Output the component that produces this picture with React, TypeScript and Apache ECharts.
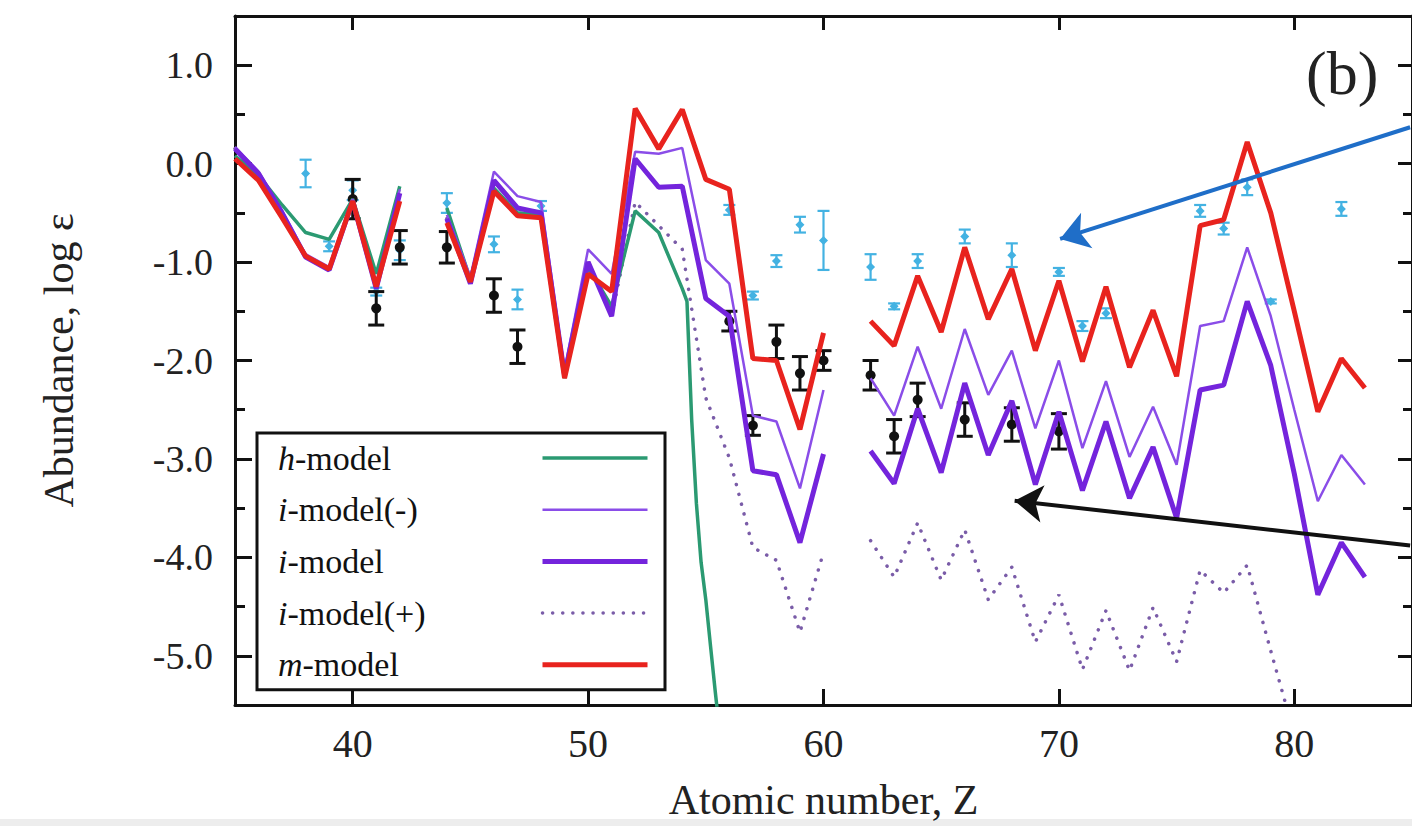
import React, { useEffect, useRef } from "react";
import * as echarts from "echarts";

const FONT = "'Liberation Serif', 'Times New Roman', serif";

// Atomic numbers used by the model curves (gaps at Tc=43 and Pm=61)
const Z = [35, 36, 37, 38, 39, 40, 41, 42, 43, 44, 45, 46, 47, 48, 49, 50, 51, 52, 53, 54, 55, 56, 57, 58, 59, 60, 61, 62, 63, 64, 65, 66, 67, 68, 69, 70, 71, 72, 73, 74, 75, 76, 77, 78, 79, 80, 81, 82, 83];

const hModelZ = [35, 36, 37, 38, 39, 40, 41, 42, 43, 44, 45, 46, 47, 48, 49, 50, 51, 52, 53, 54, 54.2, 54.4, 54.6, 54.8, 55, 55.2, 55.4, 55.6];
const hModel = [0.08, -0.12, -0.42, -0.7, -0.77, -0.36, -1.12, -0.23, null, -0.45, -1.18, -0.25, -0.5, -0.52, -2.18, -1.05, -1.45, -0.48, -0.7, -1.27, -1.4, -2.6, -3.45, -4.05, -4.43, -4.9, -5.36, -5.8];

const iModelMinus = [0.17, -0.08, -0.48, -0.92, -1.05, -0.36, -1.25, -0.26, null, -0.52, -1.15, -0.08, -0.33, -0.39, -2.1, -0.87, -1.12, 0.12, 0.1, 0.16, -0.98, -1.22, -2.56, -2.62, -3.3, -2.3, null, -2.18, -2.56, -1.86, -2.49, -1.68, -2.35, -1.9, -2.69, -2.0, -2.89, -2.21, -2.98, -2.47, -3.06, -1.65, -1.6, -0.85, -1.55, -2.5, -3.43, -2.96, -3.26];

const iModel = [0.15, -0.1, -0.5, -0.95, -1.08, -0.38, -1.27, -0.3, null, -0.56, -1.22, -0.17, -0.45, -0.5, -2.15, -1.0, -1.55, 0.05, -0.24, -0.23, -1.37, -1.55, -3.12, -3.16, -3.85, -2.95, null, -2.92, -3.25, -2.49, -3.14, -2.23, -2.96, -2.41, -3.26, -2.52, -3.32, -2.62, -3.4, -2.88, -3.6, -2.3, -2.25, -1.4, -2.05, -3.15, -4.38, -3.85, -4.2];

const iModelPlus = [0.15, -0.1, -0.5, -0.95, -1.08, -0.38, -1.27, -0.3, null, -0.56, -1.22, -0.17, -0.45, -0.5, -2.15, -1.0, -1.55, -0.39, -0.63, -0.87, -2.38, -2.99, -3.9, -4.03, -4.76, -3.95, null, -3.83, -4.2, -3.65, -4.23, -3.72, -4.43, -4.1, -4.86, -4.38, -5.14, -4.54, -5.15, -4.51, -5.06, -4.13, -4.36, -4.08, -4.95, -5.8, null, null, null];

const mModel = [0.05, -0.17, -0.55, -0.94, -1.07, -0.38, -1.25, -0.38, null, -0.6, -1.2, -0.28, -0.53, -0.55, -2.18, -1.12, -1.3, 0.56, 0.15, 0.55, -0.16, -0.26, -1.98, -2.0, -2.7, -1.72, null, -1.6, -1.85, -1.14, -1.71, -0.85, -1.58, -1.07, -1.9, -1.19, -2.01, -1.25, -2.07, -1.49, -2.16, -0.63, -0.57, 0.22, -0.5, -1.5, -2.52, -1.98, -2.28];

// Observed abundances (black) with errors
const blackZ = [40, 41, 42, 44, 46, 47, 56, 57, 58, 59, 60, 62, 63, 64, 66, 68, 70];
const blackVal = [-0.36, -1.47, -0.85, -0.85, -1.34, -1.86, -1.6, -2.66, -1.81, -2.13, -2.0, -2.15, -2.77, -2.4, -2.6, -2.65, -2.72];
const blackErr = [0.2, 0.17, 0.17, 0.16, 0.17, 0.17, 0.1, 0.1, 0.17, 0.17, 0.1, 0.15, 0.17, 0.17, 0.17, 0.17, 0.18];

// Observed abundances (cyan) with errors
const cyanZ = [38, 39, 40, 41, 42, 44, 46, 47, 48, 56, 57, 58, 59, 60, 62, 63, 64, 66, 68, 70, 71, 72, 76, 77, 78, 79, 82];
const cyanVal = [-0.1, -0.84, -0.27, -1.3, -0.88, -0.4, -0.82, -1.38, -0.43, -0.47, -1.34, -0.99, -0.62, -0.78, -1.05, -1.45, -0.99, -0.74, -0.93, -1.1, -1.65, -1.52, -0.48, -0.66, -0.24, -1.4, -0.46];
const cyanErr = [0.14, 0.05, 0.1, 0.04, 0.1, 0.1, 0.08, 0.1, 0.05, 0.05, 0.04, 0.06, 0.08, 0.3, 0.13, 0.03, 0.07, 0.07, 0.12, 0.04, 0.05, 0.05, 0.06, 0.06, 0.08, 0.02, 0.07];

const names = ["h-model", "i-model(-)", "i-model", "i-model(+)", "m-model"];

const pairs = (xs: number[], vs: (number | null)[]) => xs.map((x, i) => [x, vs[i]]);
const triples = (xs: number[], vs: number[], es: number[]) => xs.map((x, i) => [x, vs[i], es[i]]);

function errRenderer(color: string, capHalf: number, r: number, lw: number, diamond: boolean) {
  return (params: any, api: any) => {
    const x = api.value(0);
    const v = api.value(1);
    const e = api.value(2);
    const c = api.coord([x, v]);
    const t = api.coord([x, v + e]);
    const b = api.coord([x, v - e]);
    const st = { stroke: color, lineWidth: lw };
    const marker = diamond
      ? { type: "polygon", shape: { points: [[c[0], c[1] - r], [c[0] + r, c[1]], [c[0], c[1] + r], [c[0] - r, c[1]]] }, style: { fill: color } }
      : { type: "circle", shape: { cx: c[0], cy: c[1], r }, style: { fill: color } };
    return {
      type: "group",
      children: [
        { type: "line", shape: { x1: c[0], y1: t[1], x2: c[0], y2: b[1] }, style: st },
        { type: "line", shape: { x1: c[0] - capHalf, y1: t[1], x2: c[0] + capHalf, y2: t[1] }, style: st },
        { type: "line", shape: { x1: c[0] - capHalf, y1: b[1], x2: c[0] + capHalf, y2: b[1] }, style: st },
        marker,
      ],
    };
  };
}

const axisLineStyle = { show: true, onZero: false, lineStyle: { color: "#111", width: 3 } };

export default function App() {
  const ref = useRef<HTMLDivElement>(null);
  useEffect(() => {
    const chart = echarts.init(ref.current!, null, { renderer: "svg" });
    const baseLine = (name: string, xs: number[], vs: (number | null)[], color: string, width: number, extra: any = {}) => ({
      name,
      type: "line",
      data: pairs(xs, vs),
      symbol: "none",
      showSymbol: false,
      connectNulls: false,
      clip: true,
      silent: true,
      z: 3,
      lineStyle: { color, width, ...(extra.lineStyle || {}) },
      itemStyle: { color },
      emphasis: { disabled: true },
      ...(extra.rest || {}),
    });

    const option: any = {
      animation: false,
      backgroundColor: "#ffffff",
      grid: { left: 235, top: 16, right: -2, bottom: 118, containLabel: false },
      title: {
        text: "(b)",
        left: 1306,
        top: 42,
        padding: 0,
        textStyle: { fontFamily: FONT, fontSize: 62, fontWeight: "normal", color: "#222" },
      },
      legend: [
        {
          orient: "vertical",
          left: 257,
          top: 433,
          data: names,
          selectedMode: false,
          icon: "rect",
          itemWidth: 0,
          itemHeight: 0,
          itemGap: 17.7,
          padding: [8, 17, 8, 16],
          borderColor: "#111",
          borderWidth: 3,
          backgroundColor: "#fff",
          formatter: (n: string) => `{it|${n[0]}}${n.slice(1)}`,
          textStyle: {
            fontFamily: FONT,
            fontSize: 34,
            lineHeight: 34,
            color: "#111",
            width: 370,
            rich: { it: { fontFamily: FONT, fontSize: 34, fontStyle: "italic", color: "#111" } },
          },
        },
        {
          orient: "vertical",
          left: 540,
          top: 441,
          data: names,
          selectedMode: false,
          itemWidth: 105,
          itemHeight: 14,
          itemGap: 17.7,
          padding: 0,
          formatter: () => " ",
          itemStyle: { opacity: 0 },
          lineStyle: { width: "inherit" },
          textStyle: { fontFamily: FONT, fontSize: 34, lineHeight: 34 },
        },
      ],
      xAxis: [
        {
          type: "value",
          min: 35,
          max: 85,
          splitNumber: 5,
          position: "bottom",
          axisLine: axisLineStyle,
          axisTick: { inside: true, length: 16, lineStyle: { color: "#111", width: 3 } },
          axisLabel: { fontFamily: FONT, fontSize: 40, color: "#222", margin: 18, showMinLabel: false, showMaxLabel: false },
          splitLine: { show: false },
          name: "Atomic number, Z",
          nameLocation: "middle",
          nameGap: 74,
          nameTextStyle: { fontFamily: FONT, fontSize: 42, color: "#222" },
        },
        {
          type: "value",
          min: 35,
          max: 85,
          splitNumber: 5,
          position: "top",
          axisLine: axisLineStyle,
          axisTick: { inside: true, length: 14, lineStyle: { color: "#111", width: 3 } },
          axisLabel: { show: false },
          splitLine: { show: false },
        },
      ],
      yAxis: [
        {
          type: "value",
          min: -5.5,
          max: 1.5,
          splitNumber: 7,
          position: "left",
          axisLine: axisLineStyle,
          axisTick: { inside: true, length: 17, lineStyle: { color: "#111", width: 3 } },
          axisLabel: {
            fontFamily: FONT,
            fontSize: 38,
            color: "#222",
            margin: 22,
            showMinLabel: false,
            showMaxLabel: false,
            formatter: (v: number) => v.toFixed(1),
          },
          splitLine: { show: false },
          name: "Abundance, log ε",
          nameLocation: "middle",
          nameRotate: 90,
          nameGap: 155,
          nameTextStyle: { fontFamily: FONT, fontSize: 42, color: "#222" },
        },
        {
          type: "value",
          min: -5.5,
          max: 1.5,
          splitNumber: 7,
          position: "right",
          axisLine: axisLineStyle,
          axisTick: { inside: true, length: 14, lineStyle: { color: "#111", width: 3 } },
          axisLabel: { show: false },
          splitLine: { show: false },
        },
        {
          type: "value",
          min: -5.5,
          max: 1.5,
          interval: 0.5,
          position: "left",
          axisLine: { show: false, onZero: false },
          axisTick: { inside: true, length: 10, lineStyle: { color: "#111", width: 3 } },
          axisLabel: { show: false },
          splitLine: { show: false },
        },
        {
          type: "value",
          min: -5.5,
          max: 1.5,
          interval: 0.5,
          position: "right",
          axisLine: { show: false, onZero: false },
          axisTick: { inside: true, length: 9, lineStyle: { color: "#111", width: 3 } },
          axisLabel: { show: false },
          splitLine: { show: false },
        },
      ],
      graphic: [
        { type: "rect", left: 0, top: 819, shape: { width: 1412, height: 7 }, style: { fill: "#ededed" }, silent: true, z: -10 },
      ],
      series: [
        {
          name: "cyanObs",
          type: "custom",
          xAxisIndex: 0,
          yAxisIndex: 0,
          z: 1,
          silent: true,
          data: triples(cyanZ, cyanVal, cyanErr),
          encode: { x: 0, y: 1 },
          renderItem: errRenderer("#43b2e2", 6, 4.5, 2.2, true),
        },
        {
          name: "blackObs",
          type: "custom",
          xAxisIndex: 0,
          yAxisIndex: 0,
          z: 2,
          silent: true,
          data: triples(blackZ, blackVal, blackErr),
          encode: { x: 0, y: 1 },
          renderItem: errRenderer("#111111", 8, 5, 3, false),
        },
        baseLine("i-model(+)", Z, iModelPlus, "#7a5ca8", 3.5, { lineStyle: { type: [0.1, 10], cap: "round" } }),
        baseLine("h-model", hModelZ, hModel, "#2b9a72", 3.5),
        baseLine("i-model(-)", Z, iModelMinus, "#8a4de8", 2.5),
        baseLine("i-model", Z, iModel, "#7424dc", 5),
        baseLine("m-model", Z, mModel, "#e8231e", 5, {
          rest: {
            markLine: {
              silent: true,
              symbol: ["none", "arrow"],
              symbolSize: 28,
              label: { show: false },
              emphasis: { disabled: true },
              data: [
                [
                  { coord: [84.92, 0.37], lineStyle: { color: "#1f6ec8", width: 4, type: "solid" }, itemStyle: { color: "#1f6ec8" } },
                  { coord: [70.05, -0.765] },
                ],
                [
                  { coord: [84.92, -3.88], lineStyle: { color: "#111", width: 4, type: "solid" }, itemStyle: { color: "#111" } },
                  { coord: [68.12, -3.425] },
                ],
              ],
            },
          },
        }),
      ],
    };
    chart.setOption(option);
    return () => chart.dispose();
  }, []);
  return (
    <div
      ref={ref}
      style={{ position: "fixed", left: 0, top: 0, width: 1412, height: 826, background: "#fff" }}
    />
  );
}
